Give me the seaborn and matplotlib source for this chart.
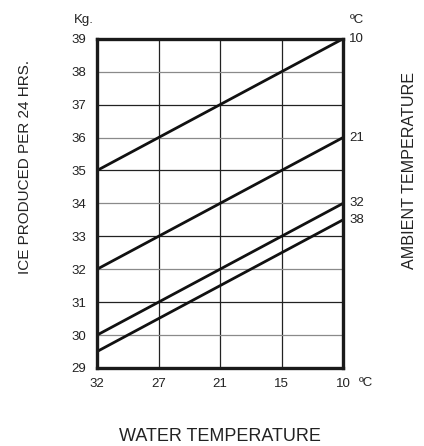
import pandas as pd
import seaborn as sns
import matplotlib.pyplot as plt

water_temp = ['32', '27', '21', '15', '10']
ambient = ['10', '21', '32', '38']
ice_10 = [35, 36, 37, 38, 39]
ice_21 = [32, 33, 34, 35, 36]
ice_32 = [30, 31, 32, 33, 34]
ice_38 = [29.5, 30.5, 31.5, 32.5, 33.5]
y_ticks = list(range(29, 40))

rows = []
for amb, vals in zip(ambient, [ice_10, ice_21, ice_32, ice_38]):
    for i, (w, v) in enumerate(zip(water_temp, vals)):
        rows.append({'pos': i, 'water': w, 'ambient': amb, 'ice': v})
df = pd.DataFrame(rows)

sns.set_style('white')
plt.rcParams['font.family'] = ['Liberation Sans', 'DejaVu Sans']

fig = plt.figure(figsize=(4.24, 4.46), dpi=100)
ax = fig.add_axes([0.229, 0.175, 0.580, 0.738])

sns.lineplot(data=df, x='pos', y='ice', units='ambient', estimator=None,
             color='#111111', linewidth=2.0, ax=ax, legend=False)

ax.set_xlim(0, len(water_temp) - 1)
ax.set_ylim(y_ticks[0], y_ticks[-1])
ax.set_xticks(range(len(water_temp)))
ax.set_xticklabels(water_temp)
ax.set_yticks(y_ticks)
ax.set_yticklabels([str(t) for t in y_ticks])
ax.tick_params(axis='y', length=0, labelsize=9.5, colors='#222222', pad=8)
ax.tick_params(axis='x', length=0, labelsize=9.5, colors='#222222', pad=7)

ax.grid(True, linewidth=0.9)
for t, gl in zip(y_ticks, ax.get_ygridlines()):
    gl.set_color('#222222' if t % 2 == 1 else '#8a8a8a')
for gl in ax.get_xgridlines():
    gl.set_color('#222222')

for s in ax.spines.values():
    s.set_color('#1a1a1a')
    s.set_linewidth(2.4)

ax.set_xlabel('')
ax.set_ylabel('')

# labels for ambient temperature at line ends
for amb, vals in zip(ambient, [ice_10, ice_21, ice_32, ice_38]):
    ax.text(len(water_temp) - 1 + 0.1, vals[-1], amb, ha='left', va='center',
            fontsize=9.5, color='#222222')

fig.text(0.197, 0.955, 'Kg.', ha='center', va='center', fontsize=9.5,
         color='#222222')
fig.text(0.842, 0.955, '\u00baC', ha='center', va='center', fontsize=9.5,
         color='#222222')
fig.text(0.863, 0.141, '\u00baC', ha='center', va='center', fontsize=9.5,
         color='#222222')

fig.text(0.518, 0.022, 'WATER TEMPERATURE', ha='center', va='center',
         fontsize=13, color='#222222')
fig.text(0.059, 0.626, 'ICE PRODUCED PER 24 HRS.', rotation=90, ha='center',
         va='center', fontsize=11, color='#222222')
fig.text(0.965, 0.617, 'AMBIENT TEMPERATURE', rotation=90, ha='center',
         va='center', fontsize=11.6, color='#222222')

fig.savefig('out.png', dpi=100)
